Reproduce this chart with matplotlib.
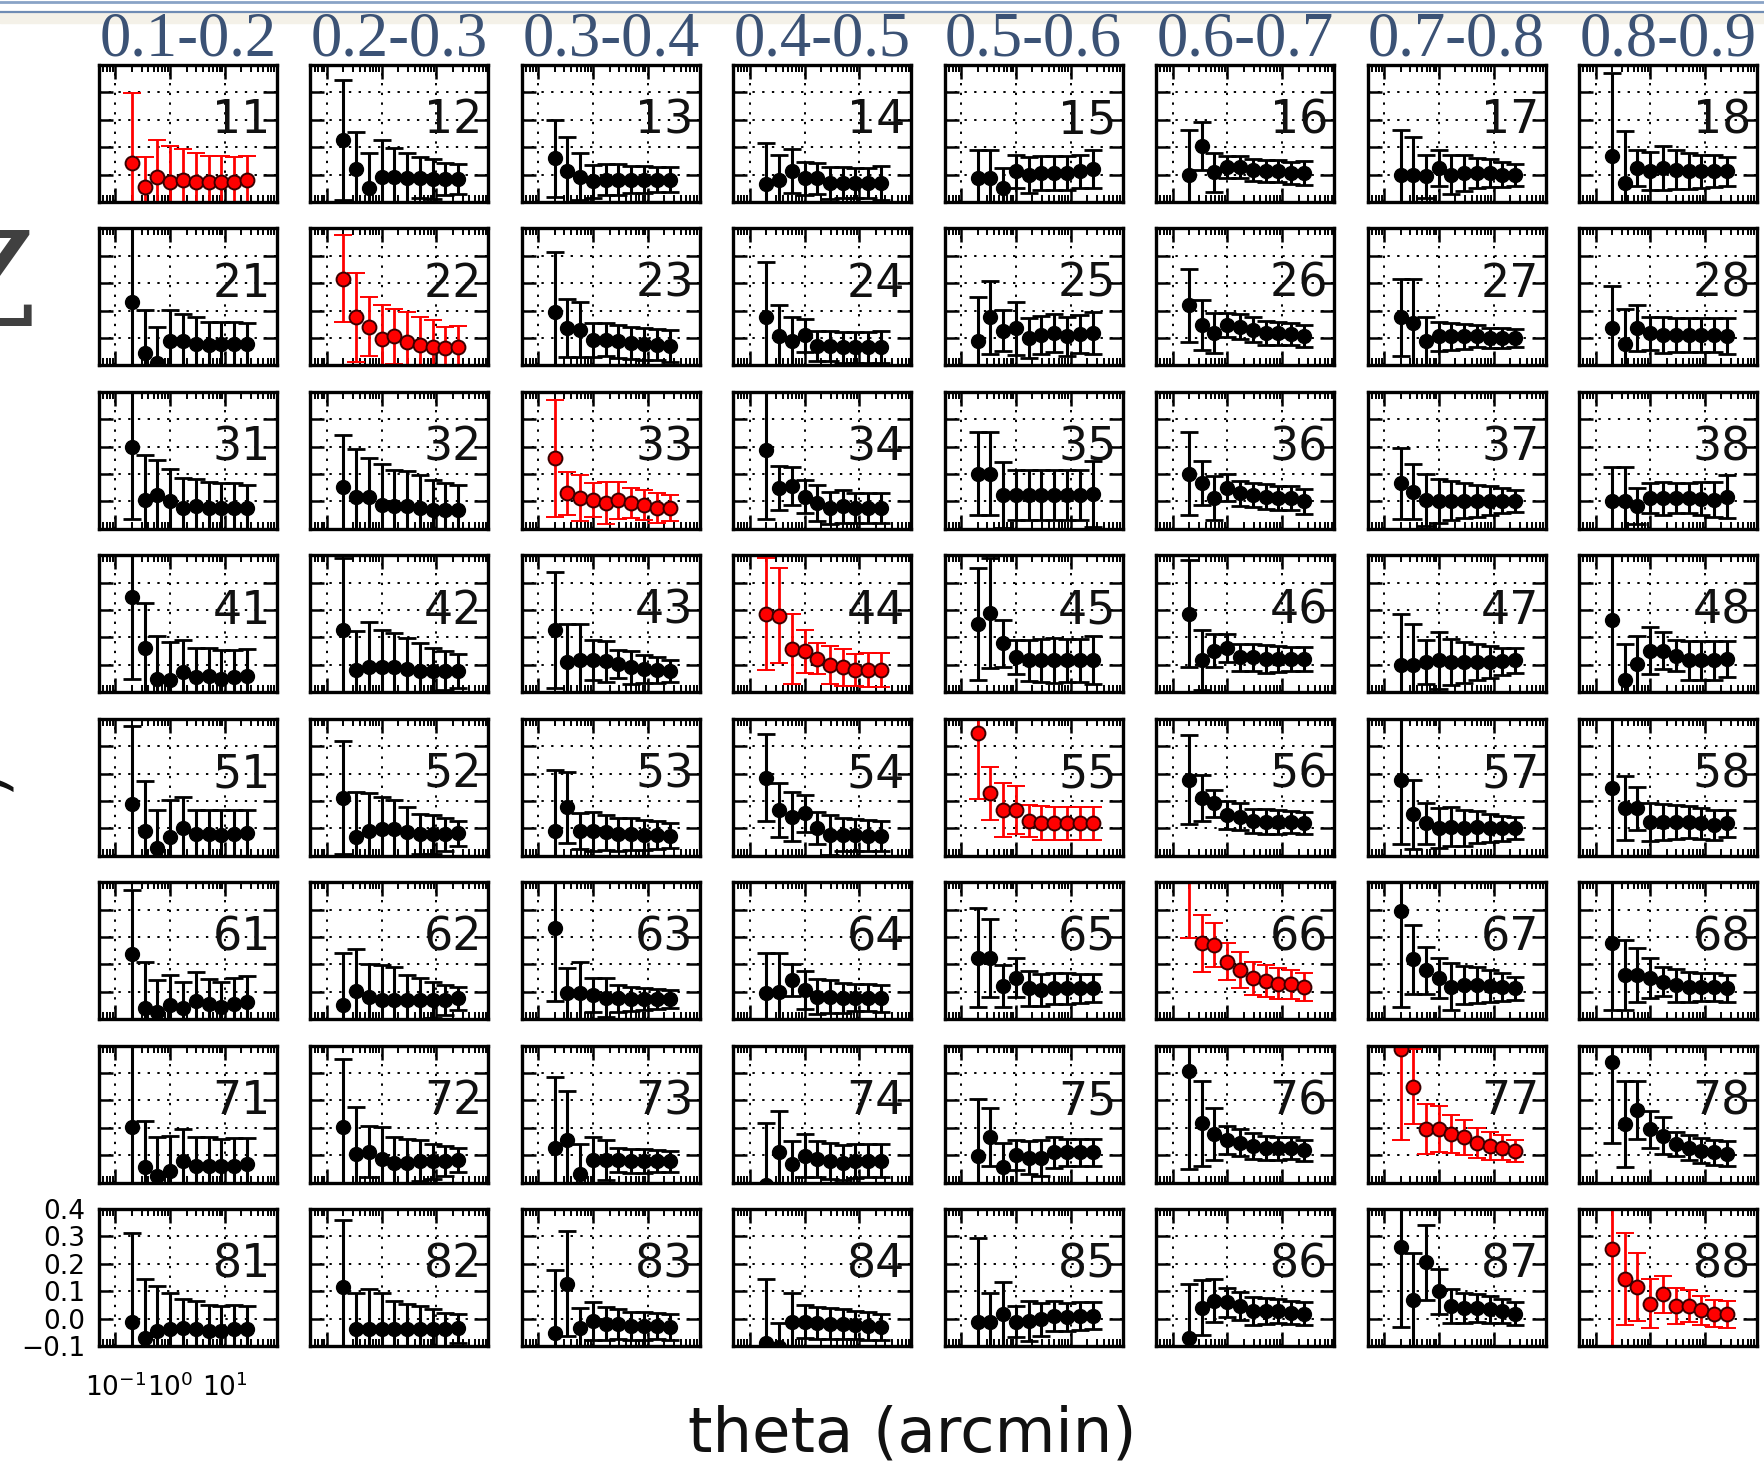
import matplotlib
matplotlib.use("Agg")
import matplotlib.pyplot as plt
from matplotlib.patches import Rectangle
from matplotlib.lines import Line2D

# bin centres (arcmin), same for every panel
theta = [0.2, 0.34, 0.58, 1.0, 1.7, 2.9, 5.0, 8.5, 14.5, 25.0]

zbins = ["0.1-0.2", "0.2-0.3", "0.3-0.4", "0.4-0.5",
         "0.5-0.6", "0.6-0.7", "0.7-0.8", "0.8-0.9"]

# correlation values, one row of panels per list (panels 11..18, 21..28, ...)
xi_1 = [
    [0.042, -0.045, -0.008, -0.027, -0.02, -0.028, -0.028, -0.028, -0.027, -0.018],
    [0.127, 0.02, -0.048, -0.008, -0.008, -0.012, -0.012, -0.016, -0.016, -0.016],
    [0.06, 0.012, -0.008, -0.024, -0.018, -0.018, -0.018, -0.018, -0.018, -0.018],
    [-0.033, -0.018, 0.012, -0.014, -0.014, -0.03, -0.03, -0.03, -0.03, -0.03],
    [-0.012, -0.012, -0.048, 0.012, 0.0, 0.006, 0.006, 0.006, 0.012, 0.02],
    [0.0, 0.105, 0.008, 0.028, 0.028, 0.018, 0.012, 0.012, 0.006, 0.006],
    [0.0, 0.0, -0.006, 0.024, 0.0, 0.006, 0.006, 0.006, 0.0, 0.0],
    [0.069, -0.03, 0.024, 0.012, 0.024, 0.018, 0.012, 0.012, 0.012, 0.012],
]
err_1 = [
    [0.256, 0.11, 0.135, 0.133, 0.112, 0.108, 0.097, 0.095, 0.093, 0.085],
    [0.22, 0.137, 0.126, 0.135, 0.104, 0.09, 0.075, 0.073, 0.06, 0.055],
    [0.14, 0.124, 0.086, 0.06, 0.055, 0.055, 0.05, 0.05, 0.045, 0.045],
    [0.15, 0.09, 0.08, 0.06, 0.058, 0.058, 0.056, 0.055, 0.055, 0.062],
    [0.1, 0.1, 0.072, 0.06, 0.066, 0.062, 0.062, 0.062, 0.06, 0.07],
    [0.163, 0.088, 0.07, 0.04, 0.04, 0.04, 0.04, 0.04, 0.04, 0.045],
    [0.163, 0.136, 0.078, 0.066, 0.07, 0.065, 0.055, 0.05, 0.045, 0.04],
    [0.3, 0.19, 0.066, 0.07, 0.08, 0.07, 0.066, 0.06, 0.058, 0.054],
]

xi_2 = [
    [0.133, -0.054, -0.09, -0.012, -0.012, -0.022, -0.024, -0.022, -0.022, -0.022],
    [0.217, 0.075, 0.042, -0.002, 0.006, -0.016, -0.024, -0.033, -0.036, -0.034],
    [0.096, 0.036, 0.03, -0.006, -0.006, -0.012, -0.018, -0.022, -0.024, -0.03],
    [0.078, 0.006, -0.012, 0.01, -0.03, -0.03, -0.034, -0.034, -0.034, -0.034],
    [-0.012, 0.075, 0.027, 0.036, 0.0, 0.012, 0.018, 0.006, 0.014, 0.018],
    [0.12, 0.048, 0.018, 0.048, 0.042, 0.03, 0.018, 0.018, 0.014, 0.006],
    [0.075, 0.054, -0.012, 0.006, 0.006, 0.006, 0.006, 0.0, 0.0, 0.0],
    [0.036, -0.022, 0.036, 0.018, 0.012, 0.012, 0.01, 0.01, 0.01, 0.006],
]
err_2 = [
    [0.32, 0.156, 0.13, 0.114, 0.1, 0.1, 0.084, 0.082, 0.082, 0.076],
    [0.16, 0.164, 0.108, 0.122, 0.1, 0.11, 0.1, 0.1, 0.078, 0.078],
    [0.217, 0.106, 0.1, 0.062, 0.06, 0.06, 0.06, 0.058, 0.056, 0.058],
    [0.2, 0.114, 0.09, 0.06, 0.055, 0.055, 0.057, 0.057, 0.057, 0.058],
    [0.16, 0.132, 0.075, 0.097, 0.072, 0.07, 0.07, 0.07, 0.07, 0.076],
    [0.133, 0.09, 0.072, 0.045, 0.045, 0.045, 0.045, 0.042, 0.04, 0.04],
    [0.142, 0.163, 0.09, 0.054, 0.05, 0.045, 0.04, 0.038, 0.035, 0.032],
    [0.154, 0.128, 0.084, 0.06, 0.066, 0.062, 0.062, 0.062, 0.062, 0.066],
]

xi_3 = [
    [0.199, 0.006, 0.024, 0.0, -0.024, -0.018, -0.024, -0.024, -0.024, -0.024],
    [0.054, 0.018, 0.018, -0.012, -0.016, -0.018, -0.024, -0.03, -0.03, -0.033],
    [0.157, 0.03, 0.012, 0.004, -0.006, 0.004, -0.006, -0.012, -0.024, -0.024],
    [0.187, 0.048, 0.057, 0.018, -0.006, -0.024, -0.018, -0.024, -0.024, -0.024],
    [0.102, 0.102, 0.024, 0.024, 0.024, 0.024, 0.024, 0.024, 0.024, 0.026],
    [0.102, 0.066, 0.012, 0.05, 0.03, 0.024, 0.018, 0.012, 0.012, 0.0],
    [0.066, 0.036, 0.006, 0.003, 0.003, 0.003, 0.003, 0.003, 0.003, 0.003],
    [0.002, 0.002, -0.018, 0.012, 0.012, 0.012, 0.012, 0.01, 0.006, 0.018],
]
err_3 = [
    [0.263, 0.163, 0.126, 0.12, 0.108, 0.1, 0.096, 0.093, 0.09, 0.084],
    [0.19, 0.175, 0.139, 0.15, 0.13, 0.13, 0.12, 0.11, 0.096, 0.093],
    [0.215, 0.078, 0.084, 0.062, 0.078, 0.068, 0.054, 0.054, 0.054, 0.048],
    [0.25, 0.08, 0.07, 0.06, 0.066, 0.06, 0.06, 0.056, 0.056, 0.054],
    [0.15, 0.15, 0.12, 0.09, 0.09, 0.09, 0.09, 0.09, 0.09, 0.12],
    [0.15, 0.08, 0.08, 0.05, 0.045, 0.045, 0.045, 0.045, 0.045, 0.045],
    [0.13, 0.1, 0.095, 0.08, 0.07, 0.065, 0.058, 0.052, 0.045, 0.04],
    [0.125, 0.125, 0.066, 0.054, 0.06, 0.055, 0.055, 0.06, 0.064, 0.078],
]

xi_4 = [
    [0.248, 0.061, -0.051, -0.055, -0.027, -0.045, -0.039, -0.051, -0.045, -0.039],
    [0.128, -0.018, -0.009, -0.006, -0.009, -0.015, -0.021, -0.021, -0.021, -0.023],
    [0.128, 0.01, 0.016, 0.016, 0.013, 0.004, -0.009, -0.015, -0.018, -0.023],
    [0.187, 0.18, 0.059, 0.05, 0.022, 0.001, -0.009, -0.018, -0.018, -0.018],
    [0.148, 0.189, 0.079, 0.028, 0.016, 0.016, 0.016, 0.016, 0.016, 0.018],
    [0.187, 0.018, 0.052, 0.062, 0.028, 0.028, 0.022, 0.022, 0.022, 0.022],
    [0.001, -0.002, 0.01, 0.016, 0.01, 0.01, 0.01, 0.01, 0.013, 0.016],
    [0.165, -0.057, 0.004, 0.052, 0.052, 0.034, 0.016, 0.016, 0.016, 0.022],
]
err_4 = [
    [0.3, 0.165, 0.158, 0.138, 0.116, 0.107, 0.1, 0.106, 0.1, 0.097],
    [0.263, 0.141, 0.165, 0.134, 0.125, 0.114, 0.1, 0.083, 0.071, 0.063],
    [0.211, 0.138, 0.132, 0.073, 0.075, 0.051, 0.06, 0.05, 0.048, 0.041],
    [0.204, 0.174, 0.128, 0.078, 0.057, 0.069, 0.068, 0.058, 0.061, 0.061],
    [0.205, 0.2, 0.086, 0.061, 0.075, 0.078, 0.082, 0.078, 0.078, 0.086],
    [0.195, 0.11, 0.06, 0.05, 0.05, 0.05, 0.05, 0.048, 0.045, 0.045],
    [0.183, 0.15, 0.08, 0.105, 0.085, 0.075, 0.065, 0.058, 0.05, 0.045],
    [0.28, 0.134, 0.103, 0.086, 0.067, 0.055, 0.07, 0.07, 0.07, 0.065],
]

xi_5 = [
    [0.088, -0.01, -0.073, -0.03, 0.002, -0.022, -0.022, -0.024, -0.022, -0.018],
    [0.112, -0.03, -0.01, -0.002, -0.002, -0.015, -0.022, -0.022, -0.022, -0.018],
    [-0.01, 0.076, -0.01, -0.01, -0.015, -0.022, -0.022, -0.024, -0.024, -0.027],
    [0.185, 0.067, 0.043, 0.055, 0.002, -0.024, -0.024, -0.024, -0.027, -0.027],
    [0.348, 0.128, 0.067, 0.067, 0.027, 0.018, 0.018, 0.018, 0.018, 0.018],
    [0.177, 0.11, 0.091, 0.049, 0.043, 0.027, 0.024, 0.024, 0.022, 0.018],
    [0.177, 0.051, 0.018, 0.0, 0.006, 0.002, 0.006, 0.002, 0.0, 0.0],
    [0.146, 0.073, 0.073, 0.022, 0.024, 0.024, 0.024, 0.018, 0.012, 0.018],
]
err_5 = [
    [0.284, 0.183, 0.14, 0.134, 0.114, 0.089, 0.09, 0.09, 0.089, 0.085],
    [0.205, 0.164, 0.138, 0.118, 0.106, 0.094, 0.073, 0.07, 0.059, 0.045],
    [0.223, 0.13, 0.065, 0.071, 0.064, 0.06, 0.058, 0.055, 0.05, 0.045],
    [0.158, 0.098, 0.091, 0.067, 0.059, 0.073, 0.06, 0.058, 0.056, 0.054],
    [0.241, 0.096, 0.098, 0.089, 0.058, 0.062, 0.061, 0.061, 0.061, 0.061],
    [0.163, 0.085, 0.05, 0.05, 0.048, 0.045, 0.045, 0.043, 0.04, 0.04],
    [0.235, 0.126, 0.075, 0.073, 0.07, 0.065, 0.058, 0.052, 0.045, 0.04],
    [0.27, 0.117, 0.079, 0.069, 0.065, 0.062, 0.058, 0.056, 0.055, 0.049],
]

xi_6 = [
    [0.137, -0.059, -0.073, -0.049, -0.061, -0.034, -0.043, -0.055, -0.046, -0.037],
    [-0.049, 0.002, -0.018, -0.03, -0.03, -0.03, -0.03, -0.03, -0.03, -0.024],
    [0.234, -0.006, -0.006, -0.012, -0.022, -0.024, -0.027, -0.027, -0.027, -0.027],
    [-0.006, 0.0, 0.043, 0.006, -0.018, -0.018, -0.022, -0.022, -0.022, -0.024],
    [0.124, 0.124, 0.022, 0.051, 0.012, 0.006, 0.012, 0.012, 0.012, 0.012],
    [0.45, 0.177, 0.171, 0.11, 0.079, 0.049, 0.039, 0.03, 0.027, 0.018],
    [0.295, 0.118, 0.079, 0.049, 0.018, 0.024, 0.024, 0.022, 0.018, 0.012],
    [0.177, 0.061, 0.061, 0.049, 0.037, 0.024, 0.018, 0.018, 0.018, 0.012],
]
err_6 = [
    [0.235, 0.169, 0.116, 0.11, 0.098, 0.105, 0.09, 0.09, 0.095, 0.096],
    [0.189, 0.154, 0.118, 0.128, 0.12, 0.091, 0.079, 0.067, 0.055, 0.042],
    [0.268, 0.094, 0.116, 0.063, 0.071, 0.05, 0.045, 0.04, 0.036, 0.033],
    [0.146, 0.14, 0.06, 0.07, 0.065, 0.06, 0.055, 0.05, 0.05, 0.05],
    [0.18, 0.142, 0.076, 0.071, 0.064, 0.058, 0.055, 0.055, 0.052, 0.051],
    [0.255, 0.104, 0.08, 0.067, 0.065, 0.06, 0.058, 0.055, 0.052, 0.05],
    [0.35, 0.126, 0.086, 0.073, 0.086, 0.07, 0.065, 0.058, 0.052, 0.043],
    [0.244, 0.128, 0.098, 0.073, 0.054, 0.06, 0.055, 0.052, 0.05, 0.049],
]

xi_7 = [
    [0.101, -0.043, -0.076, -0.057, -0.023, -0.039, -0.039, -0.039, -0.039, -0.033],
    [0.104, 0.006, 0.013, -0.015, -0.027, -0.027, -0.021, -0.023, -0.021, -0.018],
    [0.028, 0.055, -0.07, -0.018, -0.018, -0.018, -0.021, -0.021, -0.021, -0.023],
    [-0.11, 0.01, -0.033, -0.002, -0.015, -0.021, -0.027, -0.023, -0.021, -0.021],
    [-0.002, 0.067, -0.043, 0.001, -0.009, -0.011, 0.01, 0.01, 0.01, 0.01],
    [0.309, 0.116, 0.077, 0.055, 0.046, 0.034, 0.026, 0.026, 0.026, 0.018],
    [0.388, 0.25, 0.095, 0.095, 0.077, 0.065, 0.043, 0.034, 0.028, 0.016],
    [0.339, 0.113, 0.165, 0.095, 0.071, 0.04, 0.028, 0.016, 0.01, 0.006],
]
err_7 = [
    [0.31, 0.166, 0.141, 0.128, 0.118, 0.104, 0.104, 0.098, 0.1, 0.095],
    [0.247, 0.168, 0.094, 0.116, 0.092, 0.085, 0.075, 0.065, 0.055, 0.044],
    [0.256, 0.178, 0.11, 0.085, 0.073, 0.045, 0.045, 0.043, 0.041, 0.039],
    [0.226, 0.152, 0.083, 0.079, 0.065, 0.065, 0.064, 0.062, 0.06, 0.06],
    [0.207, 0.105, 0.089, 0.054, 0.06, 0.065, 0.055, 0.05, 0.05, 0.049],
    [0.36, 0.155, 0.095, 0.05, 0.05, 0.048, 0.045, 0.042, 0.04, 0.038],
    [0.333, 0.137, 0.09, 0.085, 0.07, 0.065, 0.055, 0.05, 0.045, 0.04],
    [0.293, 0.157, 0.105, 0.067, 0.067, 0.043, 0.045, 0.045, 0.045, 0.046],
]

xi_8 = [
    [-0.011, -0.07, -0.045, -0.039, -0.033, -0.039, -0.045, -0.045, -0.039, -0.039],
    [0.116, -0.039, -0.039, -0.039, -0.039, -0.039, -0.039, -0.039, -0.039, -0.035],
    [-0.051, 0.128, -0.035, -0.009, -0.018, -0.021, -0.027, -0.027, -0.027, -0.03],
    [-0.09, -0.105, -0.011, -0.011, -0.015, -0.018, -0.021, -0.023, -0.027, -0.03],
    [-0.011, -0.011, 0.016, -0.011, -0.009, -0.002, 0.01, 0.006, 0.01, 0.01],
    [-0.07, 0.04, 0.065, 0.059, 0.046, 0.028, 0.028, 0.028, 0.022, 0.018],
    [0.26, 0.067, 0.205, 0.099, 0.046, 0.04, 0.038, 0.034, 0.028, 0.018],
    [0.254, 0.144, 0.116, 0.055, 0.089, 0.046, 0.046, 0.03, 0.018, 0.016],
]
err_8 = [
    [0.322, 0.214, 0.165, 0.134, 0.104, 0.104, 0.095, 0.09, 0.088, 0.085],
    [0.244, 0.134, 0.146, 0.134, 0.104, 0.094, 0.085, 0.075, 0.06, 0.053],
    [0.228, 0.193, 0.075, 0.068, 0.06, 0.055, 0.052, 0.05, 0.048, 0.048],
    [0.235, 0.09, 0.105, 0.06, 0.058, 0.056, 0.055, 0.052, 0.05, 0.048],
    [0.305, 0.106, 0.119, 0.057, 0.074, 0.06, 0.055, 0.052, 0.05, 0.049],
    [0.196, 0.1, 0.079, 0.054, 0.05, 0.05, 0.048, 0.045, 0.043, 0.041],
    [0.29, 0.174, 0.136, 0.081, 0.061, 0.055, 0.052, 0.05, 0.045, 0.041],
    [0.37, 0.167, 0.125, 0.089, 0.067, 0.067, 0.06, 0.053, 0.05, 0.049],
]

xi_rows = [xi_1, xi_2, xi_3, xi_4, xi_5, xi_6, xi_7, xi_8]
err_rows = [err_1, err_2, err_3, err_4, err_5, err_6, err_7, err_8]

W, H = 1764, 1465
fig, axes = plt.subplots(8, 8, figsize=(W / 100, H / 100), dpi=100,
                         sharex=True, sharey=True)
fig.subplots_adjust(left=99 / W, right=1757 / W, top=1 - 65 / H,
                    bottom=1 - 1346 / H, wspace=0.188, hspace=0.193)

for r in range(8):
    for c in range(8):
        ax = axes[r, c]
        if r == c:
            ax.errorbar(theta, xi_rows[r][c], yerr=err_rows[r][c], fmt="o",
                        color="red", mfc="red", mec="#3a0000", mew=1.4, ms=10,
                        ecolor="red", elinewidth=2.0, capsize=6.5, capthick=2.0)
        else:
            ax.errorbar(theta, xi_rows[r][c], yerr=err_rows[r][c], fmt="o",
                        color="k", ms=10, ecolor="k", elinewidth=2.2,
                        capsize=6.5, capthick=2.0)
        ax.set_xscale("log")
        ax.set_xlim(0.05, 89)
        ax.set_ylim(-0.1, 0.4)
        ax.set_yticks([-0.1, 0.0, 0.1, 0.2, 0.3, 0.4])
        ax.grid(True, which="major", linestyle=(0, (1.2, 3.8)), color="k",
                linewidth=1.4)
        ax.tick_params(which="both", direction="in", top=True, right=True,
                       labelsize=19)
        ax.tick_params(which="major", length=10, width=1.8)
        ax.tick_params(which="minor", length=5, width=1.4)
        ax.tick_params(axis="x", pad=20)
        ax.tick_params(axis="y", pad=10)
        for s in ax.spines.values():
            s.set_linewidth(2.4)
        ax.text(0.965, 0.5, f"{r + 1}{c + 1}", transform=ax.transAxes,
                ha="right", va="baseline", fontsize=33, color="#111111")
        if not (r == 7 and c == 0):
            ax.tick_params(labelbottom=False, labelleft=False)

# redshift bin headers above each column
for c in range(8):
    xc = (99 + c * 211.4 + 89) / W
    fig.text(xc, 1 - 40 / H, zbins[c], ha="center", va="center",
             fontsize=45, family="Liberation Serif", color="#3b5275")

fig.text(0.517, 1 - 1451 / H, "theta (arcmin)", ha="center", va="baseline",
         fontsize=45, color="#111111")

# bits of the slide around the chart
fig.patches.append(Rectangle((0, 1 - 23 / H), 1, 10 / H, transform=fig.transFigure,
                             color="#f4f1e8", zorder=0))
fig.add_artist(Line2D([0, 1], [1 - 12 / H, 1 - 12 / H], transform=fig.transFigure,
                      color="#6f8cb4", linewidth=1.6))
fig.add_artist(Line2D([0, 1], [1 - 1.5 / H, 1 - 1.5 / H], transform=fig.transFigure,
                      color="#8aa3c6", linewidth=2))
fig.text(36 / W, 1 - 326 / H, "Z", ha="right", va="baseline", fontsize=94,
         family="DejaVu Serif", color="#404040")
fig.text(14 / W, 1 - 780 / H, ")", ha="right", va="center", fontsize=45,
         rotation=90, color="#111111")

fig.savefig("out.png", dpi=100)
